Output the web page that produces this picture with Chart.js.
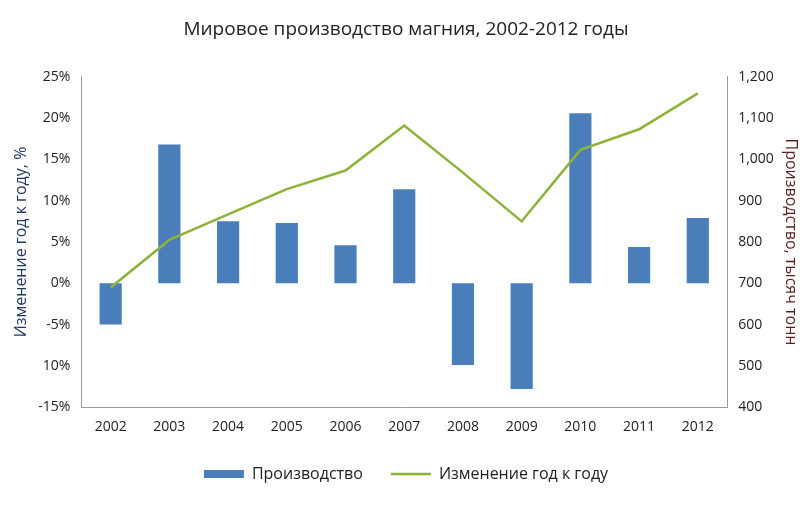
<!DOCTYPE html>
<html>
<head>
<meta charset="utf-8">
<script src="https://cdn.jsdelivr.net/npm/chart.js@4"></script>
<style>
    body { margin: 0; background: #fff; }
    #wrap { width: 810px; height: 508px; }
</style>
</head>
<body>
<div id="wrap"><canvas id="chart"></canvas></div>
<script>
// Chart data
const years = ['2002', '2003', '2004', '2005', '2006', '2007', '2008', '2009', '2010', '2011', '2012'];
const changePct = [-5, 16.8, 7.5, 7.3, 4.6, 11.4, -9.9, -12.8, 20.6, 4.4, 7.9];
const production = [690, 805, 867, 928, 973, 1082, 968, 850, 1023, 1073, 1160];
const leftTicks = ['-15%', '10%', '-5%', '0%', '5%', '10%', '15%', '20%', '25%'];

const font = { family: 'Open Sans', size: 14 };
const axisGrey = '#9a9a9a';

new Chart(document.getElementById('chart'), {
    data: {
        labels: years,
        datasets: [{
            type: 'line',
            label: 'Изменение год к году',
            data: production,
            yAxisID: 'y1',
            borderColor: '#8db23a',
            borderWidth: 2.5,
            pointRadius: 0,
            tension: 0,
            order: 0
        }, {
            type: 'bar',
            label: 'Производство',
            data: changePct,
            yAxisID: 'y',
            backgroundColor: '#4a7ebb',
            categoryPercentage: 0.9,
            barPercentage: 0.42,
            order: 1
        }]
    },
    options: {
        responsive: true,
        maintainAspectRatio: false,
        animation: false,
        layout: { padding: { left: 8, right: 6, top: 10, bottom: 16 } },
        plugins: {
            title: {
                display: true,
                text: 'Мировое производство магния, 2002-2012 годы',
                color: '#222',
                font: { family: 'Open Sans', size: 19, weight: 'normal' },
                padding: { top: 8, bottom: 36 }
            },
            legend: {
                position: 'bottom',
                reverse: true,
                labels: {
                    color: '#222',
                    font: { family: 'Open Sans', size: 16 },
                    usePointStyle: true,
                    pointStyleWidth: 40,
                    boxHeight: 8,
                    padding: 28,
                    generateLabels: (chart) => {
                        const items = Chart.defaults.plugins.legend.labels.generateLabels(chart);
                        items.forEach(item => {
                            const ds = chart.data.datasets[item.datasetIndex];
                            if (ds.type === 'line') {
                                item.pointStyle = 'line';
                                item.strokeStyle = ds.borderColor;
                                item.lineWidth = 2.5;
                            } else {
                                item.pointStyle = 'rect';
                                item.lineWidth = 0;
                            }
                        });
                        return items;
                    }
                }
            },
            tooltip: { enabled: false }
        },
        scales: {
            x: {
                grid: { display: false },
                border: { color: axisGrey },
                ticks: { color: '#222', font: font }
            },
            y: {
                position: 'left',
                min: -15,
                max: 25,
                grid: { display: false },
                border: { color: axisGrey },
                ticks: {
                    stepSize: 5,
                    color: '#222',
                    font: font,
                    callback: (v) => leftTicks[(v + 15) / 5]
                },
                title: {
                    display: true,
                    text: 'Изменение год к году, %',
                    color: '#1f3864',
                    font: { family: 'Open Sans', size: 16 }
                }
            },
            y1: {
                position: 'right',
                min: 400,
                max: 1200,
                grid: { display: false },
                border: { color: axisGrey },
                ticks: {
                    stepSize: 100,
                    color: '#222',
                    font: font,
                    callback: (v) => v.toLocaleString('en-US')
                },
                title: {
                    display: true,
                    text: 'Производство, тысяч тонн',
                    color: '#5a1e1e',
                    font: { family: 'Open Sans', size: 16 }
                }
            }
        }
    }
});
</script>
</body>
</html>
